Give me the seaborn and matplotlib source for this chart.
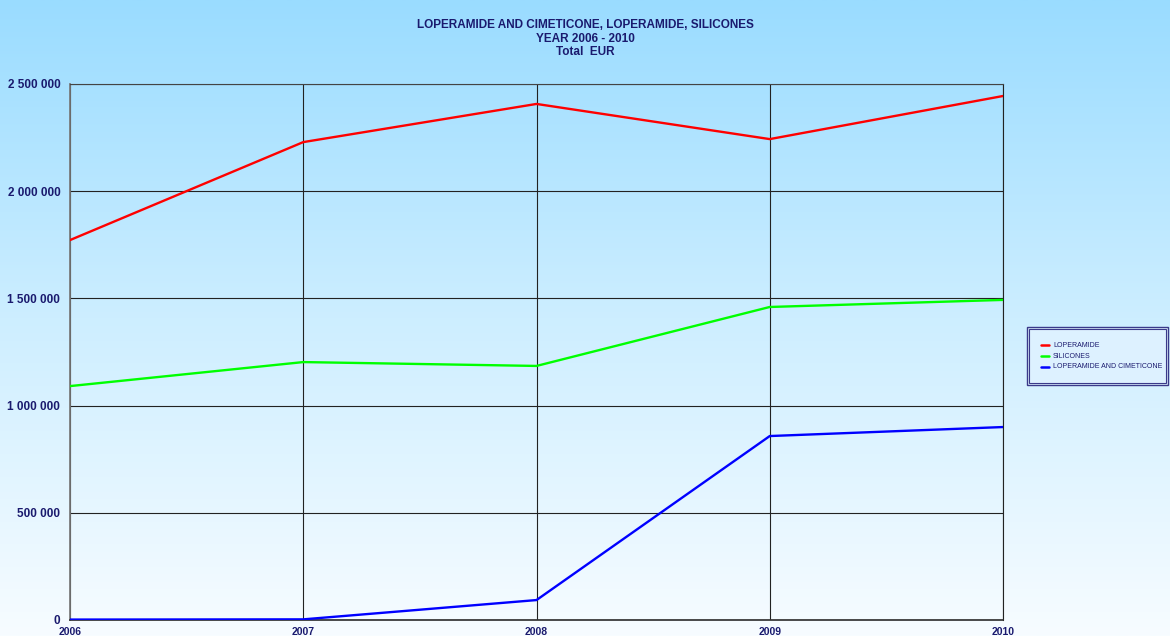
import numpy as np
import pandas as pd
import matplotlib
matplotlib.use("Agg")
import matplotlib.pyplot as plt
import seaborn as sns
from matplotlib.colors import LinearSegmentedColormap
from matplotlib.ticker import FuncFormatter, MultipleLocator
from matplotlib.patches import Rectangle

years = [2006, 2007, 2008, 2009, 2010]
loperamide = [1772000, 2229000, 2407000, 2243000, 2444000]
silicones = [1091000, 1203000, 1185000, 1460000, 1493000]
loperamide_cimeticone = [2000, 3000, 93000, 858000, 900000]

series_names = ["LOPERAMIDE", "SILICONES", "LOPERAMIDE AND CIMETICONE"]
series_colors = ["#FF0000", "#00FF00", "#0000FF"]
title_lines = ["LOPERAMIDE AND CIMETICONE, LOPERAMIDE, SILICONES",
               "YEAR 2006 - 2010",
               "Total  EUR"]

df = pd.DataFrame({
    "year": years * 3,
    "value": loperamide + silicones + loperamide_cimeticone,
    "series": [series_names[0]] * 5 + [series_names[1]] * 5 + [series_names[2]] * 5,
})

sns.set_theme(style="white")
plt.rcParams["font.family"] = ["Liberation Sans", "DejaVu Sans"]

W, H = 1170, 636
fig = plt.figure(figsize=(W / 100, H / 100), dpi=100)

# vertical background gradient behind everything
bg = fig.add_axes([0, 0, 1, 1], zorder=-10)
grad_cmap = LinearSegmentedColormap.from_list("bg", ["#F7FCFF", "#CDEEFF", "#9ADCFF"])
bg.imshow(np.linspace(0, 1, 256).reshape(-1, 1), aspect="auto", cmap=grad_cmap,
          origin="lower", extent=[0, 1, 0, 1])
bg.set_axis_off()

navy = "#1A1A6E"
ax = fig.add_axes([70 / W, 1 - 620 / H, (1003 - 70) / W, (620 - 84) / H])
ax.patch.set_alpha(0)

sns.lineplot(data=df, x="year", y="value", hue="series", hue_order=series_names,
             palette=series_colors, linewidth=1.7, ax=ax, legend=False, zorder=3)

ax.set_xlim(2006, 2010)
ax.set_ylim(0, 2500000)
ax.xaxis.set_major_locator(MultipleLocator(1))
ax.yaxis.set_major_locator(MultipleLocator(500000))
ax.yaxis.set_major_formatter(FuncFormatter(lambda v, p: f"{int(v):,}".replace(",", " ")))
ax.xaxis.set_major_formatter(FuncFormatter(lambda v, p: f"{int(v)}"))
ax.grid(True, color="#222222", linewidth=0.8)
ax.set_axisbelow(True)
ax.set_xlabel("")
ax.set_ylabel("")
ax.spines["top"].set_color("#444444")
ax.spines["top"].set_linewidth(0.8)
ax.spines["right"].set_color("#222222")
ax.spines["right"].set_linewidth(0.8)
ax.spines["left"].set_color("#777777")
ax.spines["bottom"].set_color("#333333")
ax.tick_params(axis="both", which="major", length=4, width=0.8, color="#333333",
               direction="out", labelcolor=navy)
ax.tick_params(axis="y", pad=3, labelsize=8.5)
ax.tick_params(axis="x", pad=1, labelsize=7.5)
for lbl in ax.get_yticklabels() + ax.get_xticklabels():
    lbl.set_fontweight("bold")

for i, line in enumerate(title_lines):
    fig.text(0.5, 1 - (25 + i * 13.5) / H, line, ha="center", va="center",
             fontsize=8.5, fontweight="bold", color=navy)

# legend box with a double border
lx0, ly0, lx1, ly1 = 1027, 327, 1168, 385
fig.patches.append(Rectangle((lx0 / W, 1 - ly1 / H), (lx1 - lx0) / W, (ly1 - ly0) / H,
                             transform=fig.transFigure, facecolor="#DDF1FF",
                             edgecolor="#3A3A8A", linewidth=1.0))
fig.patches.append(Rectangle(((lx0 + 2) / W, 1 - (ly1 - 2) / H), (lx1 - lx0 - 4) / W,
                             (ly1 - ly0 - 4) / H, transform=fig.transFigure,
                             facecolor="none", edgecolor="#3A3A8A", linewidth=0.8))
for i, (name, col) in enumerate(zip(series_names, series_colors)):
    yy = 1 - (345 + i * 11) / H
    fig.lines.append(plt.Line2D([1041 / W, 1049 / W], [yy, yy], transform=fig.transFigure,
                                color=col, linewidth=1.8))
    fig.text(1053 / W, yy, name, fontsize=5, color=navy, va="center", ha="left")

fig.savefig("out.png", dpi=100)
